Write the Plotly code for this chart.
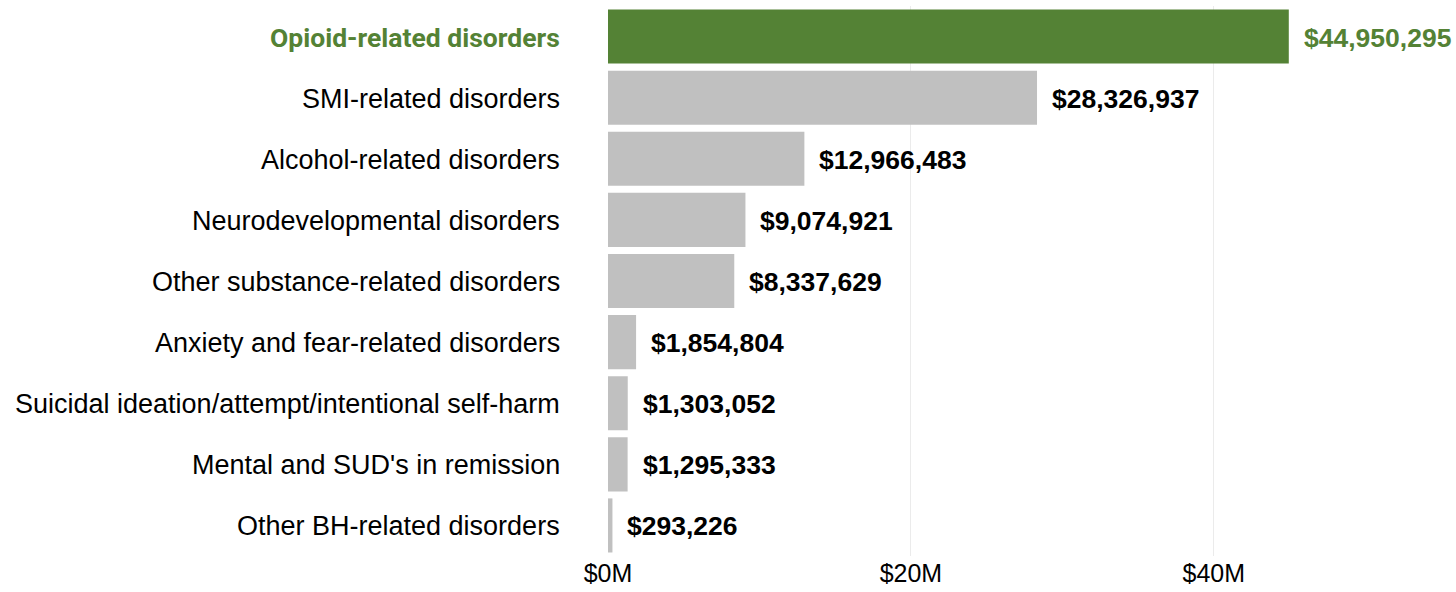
import plotly.graph_objects as go

categories = ["Opioid-related disorders", "SMI-related disorders", "Alcohol-related disorders",
              "Neurodevelopmental disorders", "Other substance-related disorders",
              "Anxiety and fear-related disorders", "Suicidal ideation/attempt/intentional self-harm",
              "Mental and SUD's in remission", "Other BH-related disorders"]
values = [44950295, 28326937, 12966483, 9074921, 8337629, 1854804, 1303052, 1295333, 293226]
tick_vals = [0, 20e6, 40e6]
tick_text = ["$0M", "$20M", "$40M"]

GREEN = "#548235"
GREY = "#c0c0c0"
SANS = "Liberation Sans, Arial, sans-serif"

bar_colors = [GREEN if i == 0 else GREY for i in range(len(values))]

fig = go.Figure(go.Bar(
    x=values, y=categories, orientation="h",
    marker=dict(color=bar_colors, line=dict(width=0)),
    hoverinfo="skip",
))

for i, (cat, v) in enumerate(zip(categories, values)):
    highlight = i == 0
    # category label on the left
    fig.add_annotation(
        x=0, xref="paper", y=cat, text=f"<b>{cat}</b>" if highlight else cat,
        showarrow=False, xanchor="right", xshift=-46, yshift=-1,
        font=dict(family="Roboto" if highlight else SANS, size=26.5 if highlight else 27,
                  color=GREEN if highlight else "#000000"))
    # value label right of the bar
    fig.add_annotation(
        x=v, y=cat, text=f"<b>${v:,.0f}</b>", showarrow=False,
        xanchor="left", xshift=13, yshift=-1,
        font=dict(family=SANS, size=26.5, color=GREEN if highlight else "#000000"))

fig.update_layout(
    width=1456, height=592,
    margin=dict(l=608, r=15, t=6, b=36),
    plot_bgcolor="white", paper_bgcolor="white",
    bargap=0.115, showlegend=False,
    font=dict(family=SANS, size=20, color="#000000"),
)
fig.update_xaxes(range=[0, 55e6], tickvals=tick_vals, ticktext=tick_text,
                 showgrid=True, gridcolor="#ebebeb", gridwidth=1,
                 zeroline=False, showline=False, ticks="",
                 tickfont=dict(family=SANS, size=25, color="#000000"))
fig.update_yaxes(autorange="reversed", showgrid=False, showline=False, ticks="",
                 showticklabels=False)

# drop the default page margin so the figure fills the window exactly
fig.write_html("out.html", config={"displayModeBar": False},
               post_script="document.body.style.margin='0';")
